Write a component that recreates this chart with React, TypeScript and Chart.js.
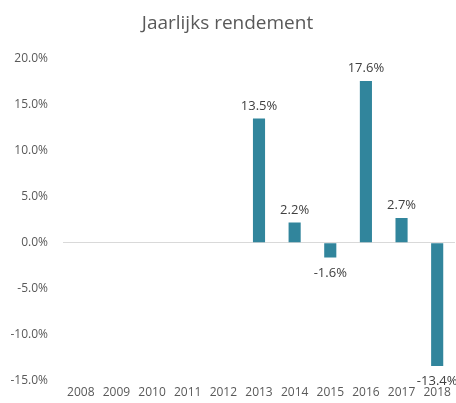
import React, { useEffect, useRef } from "react";
import { Chart, registerables } from "chart.js";
Chart.register(...registerables);

const years = ["2008","2009","2010","2011","2012","2013","2014","2015","2016","2017","2018"];
const returns: (number | null)[] = [null, null, null, null, null, 13.5, 2.2, -1.6, 17.6, 2.7, -13.4];
const title = "Jaarlijks rendement";

const FONT = "'Open Sans', 'Noto Sans', sans-serif";

const labelPlugin = {
  id: "barLabels",
  afterDatasetsDraw(chart: any) {
    const ctx = chart.ctx;
    const meta = chart.getDatasetMeta(0);
    ctx.save();
    ctx.font = `13px ${FONT}`;
    ctx.fillStyle = "#404040";
    ctx.textAlign = "center";
    meta.data.forEach((el: any, i: number) => {
      const v = returns[i];
      if (v === null || v === undefined) return;
      const txt = v.toFixed(1) + "%";
      if (v >= 0) {
        ctx.textBaseline = "bottom";
        ctx.fillText(txt, el.x, el.y - 6);
      } else {
        ctx.textBaseline = "top";
        ctx.fillText(txt, el.x, el.y + 9);
      }
    });
    ctx.restore();
  },
};

export default function App() {
  const ref = useRef<HTMLCanvasElement>(null);
  useEffect(() => {
    document.body.style.margin = "0";
    const chart = new Chart(ref.current!, {
      type: "bar",
      data: {
        labels: years,
        datasets: [
          {
            data: returns,
            backgroundColor: "#31859C",
            barPercentage: 0.34,
            categoryPercentage: 1,
          },
        ],
      },
      options: {
        animation: false,
        responsive: false,
        layout: { padding: { left: 0, right: 1, top: 0, bottom: 0 } },
        plugins: {
          legend: { display: false },
          tooltip: { enabled: false },
          title: {
            display: true,
            text: title,
            color: "#595959",
            font: { family: FONT, size: 19, weight: "normal" },
            padding: { top: 12, bottom: 24 },
          },
        },
        scales: {
          x: {
            afterFit: (axis: any) => { axis.height = 19; },
            grid: { display: false, drawTicks: false },
            border: { display: false },
            ticks: { color: "#595959", font: { family: FONT, size: 12 }, padding: 5, maxRotation: 0, autoSkip: false },
          },
          y: {
            min: -15,
            max: 20,
            afterFit: (axis: any) => { axis.width = 63; },
            grid: {
              drawTicks: false,
              color: (c: any) => (c.tick && c.tick.value === 0 ? "#D9D9D9" : "rgba(0,0,0,0)"),
            },
            border: { display: false },
            ticks: {
              stepSize: 5,
              color: "#595959",
              font: { family: FONT, size: 12 },
              padding: 15,
              callback: (v: any) => Number(v).toFixed(1) + "%",
            },
          },
        },
      },
      plugins: [labelPlugin],
    });
    return () => chart.destroy();
  }, []);
  return <canvas ref={ref} width={456} height={403} style={{ display: "block" }} />;
}
